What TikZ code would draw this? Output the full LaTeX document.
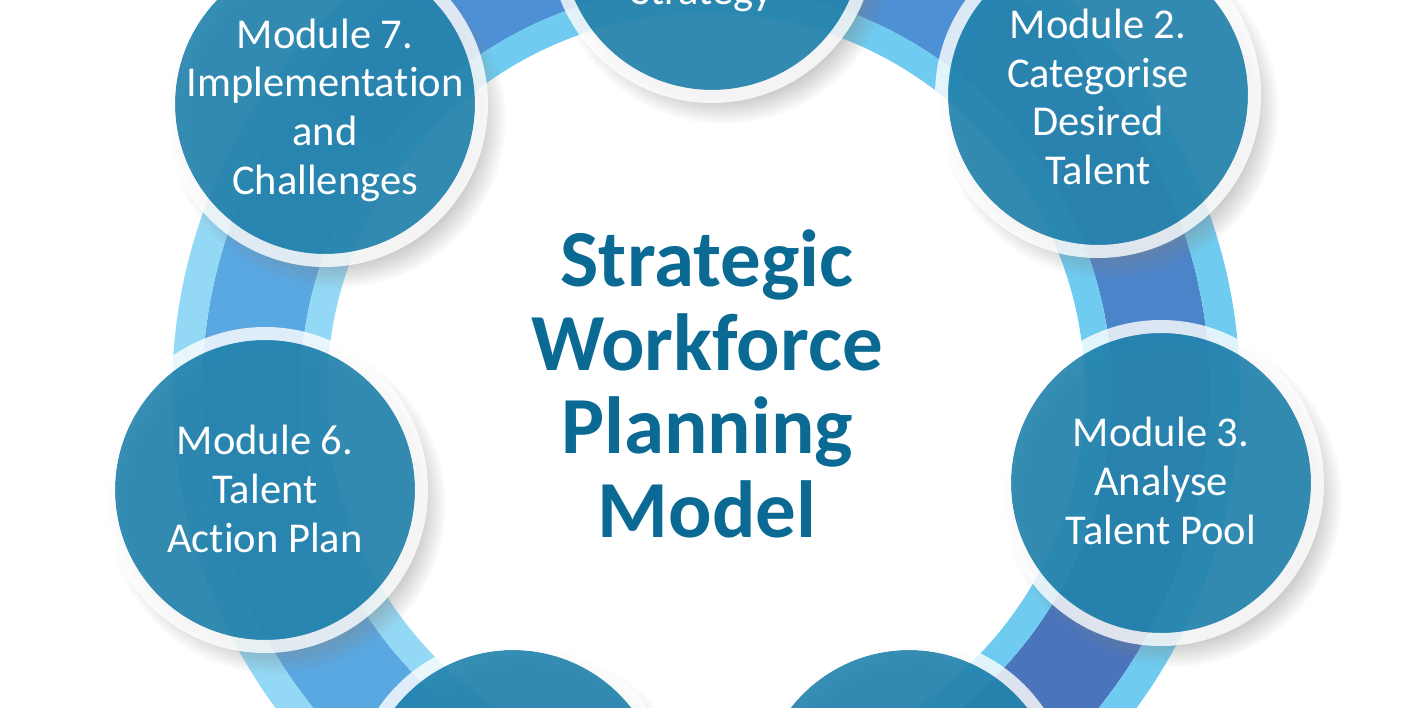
\documentclass[tikz,border=0pt]{standalone}
\usepackage{fontspec}
\setmainfont{Carlito}[Ligatures=CommonOff]
\usepackage{tikz}
\usetikzlibrary{shadows,fadings}
\definecolor{wfdisk}{HTML}{2283AE}
\definecolor{wftitle}{HTML}{0A6A94}
\definecolor{wfstripe}{HTML}{6FCCF0}
\definecolor{wfstripesoft}{HTML}{93D8F5}
\definecolor{wfbandtop}{HTML}{4E90D6}
\definecolor{wfbandright}{HTML}{4C84CA}
\definecolor{wfbanddeep}{HTML}{4A74BC}
\definecolor{wfbandleft}{HTML}{5AA8E2}
\tikzset{
  modulenode/.style={circle, minimum size=300pt, inner sep=0pt, fill=wfdisk, fill opacity=0.9, circular drop shadow={shadow scale=1.13, shadow xshift=10pt, shadow yshift=-13pt, opacity=0.4}},
  moduletext/.style={text=white, align=center, inner sep=0pt, font=\fontsize{42.5}{48.7}\selectfont},
  rimring/.style={fill=white, fill opacity=0.8, even odd rule},
  titlenode/.style={align=center, text=wftitle, font=\fontsize{81}{83.5}\selectfont\bfseries},
  bandline/.style={line width=98pt},
  outerstripe/.style={line width=30pt},
  innerstripe/.style={line width=27pt}
}
\begin{document}
\begin{tikzpicture}[x=1pt,y=-1pt]
  \useasboundingbox (0,0) rectangle (1416,708);
  \clip (0,0) rectangle (1416,708);
  \fill[white] (0,0) rectangle (1416,708);
  % ring of arrows behind the modules
  \begin{scope}[shift={(706,392)}]
    \foreach \from/\to/\band/\edge in {217/271/wfbandtop/wfstripe, 271/323/wfbandtop/wfstripe, 323/371/wfbandright/wfstripe, 11/63/wfbanddeep/wfstripe, 63/115/wfbanddeep/wfstripe, 115/167/wfbandleft/wfstripesoft, 167/217/wfbandleft/wfstripesoft}{
      \draw[bandline, \band] (\from:455) arc[start angle=\from, end angle=\to, radius=455];
      \draw[outerstripe, \edge] (\from:519) arc[start angle=\from, end angle=\to, radius=519];
      \draw[innerstripe, \edge] (\from:392.5) arc[start angle=\from, end angle=\to, radius=392.5];
    }
  \end{scope}
  \node[modulenode] (m1) at (712,-60) {};
  \node[modulenode] (m2) at (1098,95) {};
  \node[modulenode] (m3) at (1161,483) {};
  \node[modulenode] (m4) at (909,800) {};
  \node[modulenode] (m5) at (513,800) {};
  \node[modulenode] (m6) at (265,490) {};
  \node[modulenode] (m7) at (325,104) {};
  \foreach \m in {m1,m2,m3,m4,m5,m6,m7}
    \fill[rimring] (\m.center) circle[radius=163] circle[radius=150];
  \node[moduletext, anchor=base] (m1txt) at (702,5) {Strategy};
  \node[moduletext] (m2txt) at (1098,97) {Module 2.\\Categorise\\Desired\\Talent};
  \node[moduletext] (m3txt) at (1161,481) {Module 3.\\Analyse\\Talent Pool};
  \node[moduletext] (m6txt) at (265,489) {Module 6.\\Talent\\Action Plan};
  \node[moduletext] (m7txt) at (325,110) {Module 7.\\Implementation\\and\\Challenges};
  \node[titlenode] (title) at (707,384) {Strategic\\Workforce\\Planning\\Model};
\end{tikzpicture}
\end{document}
